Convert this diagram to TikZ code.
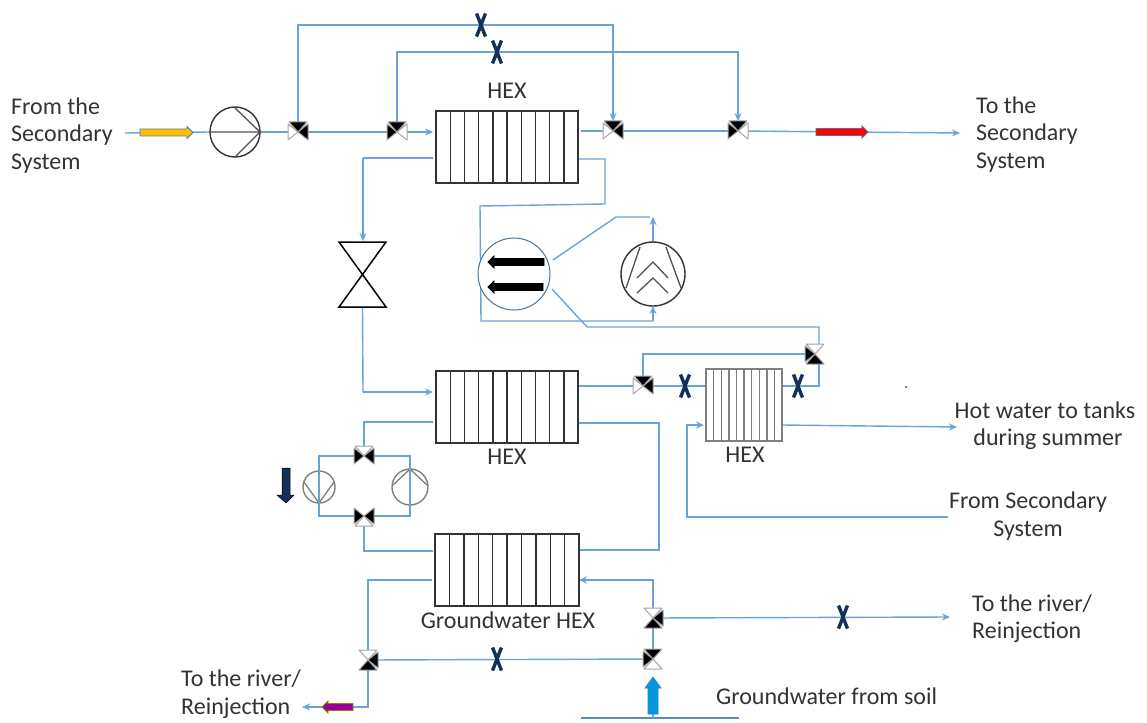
\documentclass[tikz,border=0pt]{standalone}
\usepackage{fontspec}
\setmainfont{Carlito}
\usetikzlibrary{arrows.meta,calc}
\pgfdeclarelayer{bg}
\pgfsetlayers{bg,main}
\definecolor{pipeblue}{HTML}{6AA3D8}
\definecolor{navyx}{HTML}{12305A}
\definecolor{inkgray}{HTML}{333333}
\tikzset{
  x=1pt,y=-1pt,
  pipe/.style={draw=pipeblue,line width=1.4pt},
  flow/.style={pipe,-{Stealth[length=8pt,width=7pt]}},
  box/.style={draw=inkgray,line width=1.4pt,fill=white,inner sep=0pt,outer sep=0pt},
  port/.style={inner sep=0pt,outer sep=0pt,minimum size=20pt},
  label/.style={text=inkgray,font=\fontsize{24}{26}\selectfont,inner sep=0pt},
  left label/.style={label,anchor=west},
  symbol/.style={draw=inkgray!85,line width=1.3pt},
  valve arm/.style={draw=gray!70,line width=1pt,line join=round},
  xmark/.style={draw=navyx,line width=3.4pt},
}
% heat exchanger: name, x, y, width, height, line colour (ten cells)
\newcommand{\hexunit}[6]{%
  \node[box,draw=#6,minimum width=#4pt,minimum height=#5pt,anchor=north west] (#1) at (#2,#3) {};
  \foreach \k in {1,...,9}
    \draw[draw=#6,line width=1.4pt] ({#2+\k*#4/10},#3) -- ({#2+\k*#4/10},{#3+#5});
}
% valve with the horizontal arms and one arm above
\newcommand{\threeh}[6]{%
  \node[port] (#1) at (#2,#3) {};
  \begin{scope}[shift={(#2,#3)}]
    \filldraw[valve arm,fill=#4] (0,0) -- (-10,-8) -- (-10,8) -- cycle;
    \filldraw[valve arm,fill=#5] (0,0) -- (10,-8) -- (10,8) -- cycle;
    \filldraw[valve arm,fill=#6] (0,0) -- (-9,-10) -- (9,-10) -- cycle;
  \end{scope}
}
% valve with the horizontal arms and one arm below
\newcommand{\threehb}[6]{%
  \node[port] (#1) at (#2,#3) {};
  \begin{scope}[shift={(#2,#3)}]
    \filldraw[valve arm,fill=#4] (0,0) -- (-10,-8) -- (-10,8) -- cycle;
    \filldraw[valve arm,fill=#5] (0,0) -- (10,-8) -- (10,8) -- cycle;
    \filldraw[valve arm,fill=#6] (0,0) -- (-9,10) -- (9,10) -- cycle;
  \end{scope}
}
% vertical valve: top, bottom and one side arm (side = -1 left, 1 right)
\newcommand{\threev}[6]{%
  \node[port] (#1) at (#2,#3) {};
  \begin{scope}[shift={(#2,#3)}]
    \filldraw[valve arm,fill=#4] (0,0) -- (-9,-10) -- (9,-10) -- cycle;
    \filldraw[valve arm,fill=#5] (0,0) -- (-9,10) -- (9,10) -- cycle;
    \filldraw[valve arm,fill=black] (0,0) -- ({#6*10},-8) -- ({#6*10},8) -- cycle;
  \end{scope}
}
% balancing mark
\newcommand{\xvalve}[3]{%
  \node[port,minimum size=10pt] (#1) at (#2,#3) {};
  \begin{scope}[shift={(#2,#3)}]
    \draw[xmark] (-4.5,-11.5) .. controls (-1,-3) and (1,3) .. (4.5,11.5);
    \draw[xmark] (4.5,-11.5) .. controls (1,-3) and (-1,3) .. (-4.5,11.5);
  \end{scope}
}
% block arrow: x from, x to, y, half body, fill, edge
\newcommand{\blockarrow}[6]{%
  \filldraw[fill=#5,draw=#6,line width=.9pt,line join=miter]
    (#1,{#3-#4}) -- ({#2-6*(#2-#1)/abs(#2-#1)},{#3-#4}) -- ({#2-6*(#2-#1)/abs(#2-#1)},{#3-#4-2.5})
    -- (#2,#3) -- ({#2-6*(#2-#1)/abs(#2-#1)},{#3+#4+2.5}) -- ({#2-6*(#2-#1)/abs(#2-#1)},{#3+#4}) -- (#1,{#3+#4}) -- cycle;
}
\begin{document}
\begin{tikzpicture}
\useasboundingbox (0,0) rectangle (1147,722);

% ---------- heat exchangers
\hexunit{hexa}{436}{111}{142}{72}{inkgray}
\hexunit{hexb}{436}{371}{142}{72}{inkgray}
\hexunit{hexc}{435}{534}{144}{72}{inkgray}
\hexunit{hexd}{706}{369}{76}{72}{gray}

% ---------- machines
\node[box,circle,minimum size=50pt] (pumpa) at (235,132) {};
\draw[symbol] (pumpa.west) -- (pumpa.east) (235,108) -- (pumpa.east) -- (235,157);
\node[box,circle,draw=gray,fill=none,minimum size=32pt] (pumpb) at (319,487) {};
\draw[symbol,draw=gray] (304,482) -- (319,503) -- (334,482);
\node[box,circle,draw=gray,fill=none,minimum size=36pt] (pumpc) at (410,487) {};
\draw[symbol,draw=gray] (393,485) -- (410,469) -- (427,485);
\node[box,circle,minimum size=64pt] (comp) at (653,274) {};
\draw[symbol] (640,247) -- (626,288) (666,247) -- (681,288)
  (637,278) -- (653,262) -- (668,278) (637,293) -- (653,278) -- (668,293);
\node[circle,draw=pipeblue!70!black,line width=1pt,fill=white,minimum width=72pt,inner sep=0pt] (cond) at (514,274) {};
\blockarrow{544}{488}{262}{3.5}{black}{black}
\blockarrow{543}{488}{287}{3.5}{black}{black}
% expansion valve
\node[port,minimum width=47pt,minimum height=65pt] (exv) at (362.5,274.5) {};
\draw[line width=1.5pt,draw=black,line join=miter] (exv.north west) -- (exv.north east) -- (exv.south west) -- (exv.south east) -- cycle;

% ---------- valves
\threeh{va}{298}{132}{white}{black}{black}
\threeh{vb}{397}{132}{black}{white}{black}
\threeh{vc}{613}{131}{white}{black}{black}
\threeh{vd}{738}{131}{black}{white}{black}
\threeh{ve}{643}{386}{white}{black}{black}
\threev{vf}{815}{354}{white}{black}{-1}
\threeh{vg}{364}{456}{black}{black}{white}
\threehb{vh}{364}{516}{black}{black}{white}
\threev{vi}{653}{618}{white}{black}{1}
\threev{vj}{653}{659}{black}{white}{-1}
\threev{vk}{368}{660}{white}{black}{1}

% ---------- balancing marks
\xvalve{xa}{481}{25}
\xvalve{xb}{497}{52}
\xvalve{xc}{685}{386}
\xvalve{xd}{798}{386}
\xvalve{xe}{497}{659}
\xvalve{xf}{843}{617}

% ---------- free ends and corners
\coordinate (inA) at (125,133);
\coordinate (outA) at (960,133);
\coordinate (hotout) at (957,427);
\coordinate (secin) at (948,517);
\coordinate (riverA) at (950,617);
\coordinate (riverB) at (302,707);
\coordinate (soil) at (653,718);
\coordinate (cw) at (553,260);
\coordinate (ctop) at (616,217);
\coordinate (cs) at (552,289);
\coordinate (cbot) at (587,327);

\begin{pgfonlayer}{bg}
  \fill[white] (0,0) rectangle (1147,722);
  \draw[pipe] (inA) -- (pumpa.west);
  \draw[pipe] (pumpa.east) -- (va.center) -- (vb.center);
  \draw[flow,shorten >=3pt] (vb.center) -- (vb.center -| hexa.west);
  \draw[pipe] ($(hexa.east |- vc)+(3,0)$) -- (vc.center) -- (vd.center);
  \draw[flow] (vd.center) -- (outA);
  \draw[pipe] (va.north) |- (xa.center);
  \draw[flow] (xa.center) -| (vc.center |- 0,121);
  \draw[pipe] (vb.north) |- (xb.center);
  \draw[flow] (xb.center) -| (vd.center |- 0,121);
  \draw[pipe] ($(hexa.west |- 0,158)+(-3,0)$) -- (363,158);
  \draw[flow] (363,158) -- (363,241);
  \draw[pipe] (exv.south) -- (363,392);
  \draw[flow,shorten >=3pt] (363,392) -- (hexb.west |- 0,392);
  % condenser / refrigerant loop
  \draw[pipe] (hexa.east |- 0,159) -- (605,159) -- (605,204) -- (480,206) -- (481,321) -- (653,321);
  \draw[flow] (653,321) -- (comp.south);
  \draw[flow] (comp.north) -- (653,217);
  \draw[pipe] (cw) -- (ctop) -- (650,217);
  \draw[pipe] (cs) -- (cbot) -- (819,327) -- (819,344);
  \draw[pipe] (hexb.east |- ve) -- (ve.center) -- (xc.center) -- (hexd.west |- xc);
  \draw[pipe] (ve.center) |- (vf.center);
  \draw[pipe] (hexd.east |- xd) -- (819,386) -- (819,360);
  \draw[flow] (hexd.east |- 0,425) -- (hotout);
  \draw[flow,shorten >=2pt] (secin) -- (687,517) -- (687,425) -- (hexd.west |- 0,425);
  \draw[pipe] ($(hexb.west |- 0,422)+(-3,0)$) -| (vg.north);
  \draw[pipe] (vh.south) |- ($(hexc.west |- 0,551)+(-2,0)$);
  \draw[pipe] (hexb.east |- 0,423) -- (659,423) -- (659,550) -- (hexc.east |- 0,550);
  \draw[flow] (vi.north) |- (hexc.east |- 0,580);
  \draw[pipe] ($(hexc.west |- 0,580)+(-3,0)$) -| (vk.north);
  \draw[pipe] (vi.south) -- (vj.north);
  \draw[flow] (vi.center) -- (riverA);
  \draw[pipe] (vj.center) -- (vk.center);
  \draw[pipe] (vk.south) |- (353,707);
  \draw[flow] (353,707) -- (riverB);
\end{pgfonlayer}
% pump loop, over the pumps
\draw[pipe] (354,456) -| (pumpb.center) |- (354,516);
\draw[pipe] (374,456) -| (pumpc.center) |- (374,516);

% ---------- soil line and coloured block arrows
\draw[pipe,draw=pipeblue!85!black,line width=2pt] (581,718) -- (739,718);
\draw[pipe] (soil) -- (653,712);
\filldraw[fill=cyan!80!blue,draw=cyan!70!blue,line width=.6pt] (648,714) -- (648,688) -- (645,688) -- (653,677) -- (661,688) -- (658,688) -- (658,714) -- cycle;
\blockarrow{140}{193}{132.5}{3.5}{orange!50!yellow}{pipeblue!80!black}
\blockarrow{816}{868}{132}{3.5}{red}{navyx!70}
\blockarrow{353}{322}{707}{3.5}{violet!80!magenta}{olive}
\filldraw[fill=navyx,draw=black,line width=.5pt] (282,468) -- (290,468) -- (290,495) -- (294,495) -- (286,503) -- (277,495) -- (282,495) -- cycle;
\fill[inkgray] (906,387) circle (1pt);

% ---------- texts
\node[left label] (t1) at (11,106) {From the};
\node[left label] (t2) at (11,135) {Secondary};
\node[left label] (t3) at (11,164) {System};
\node[left label] (t4) at (976,105) {To the};
\node[left label] (t5) at (976,134) {Secondary};
\node[left label] (t6) at (976,163) {System};
\node[label] (t7) at (507,91) {HEX};
\node[label] (t8) at (507,457) {HEX};
\node[label] (t9) at (745,455) {HEX};
\node[label] (t10) at (1045,410) {Hot water to tanks};
\node[label] (t11) at (1048,439) {during summer};
\node[label] (t12) at (1028,502) {From Secondary};
\node[label] (t13) at (1028,531) {System};
\node[label] (t14) at (508,620) {Groundwater HEX};
\node[left label] (t15) at (972,604) {To the river/};
\node[left label] (t16) at (972,632) {Reinjection};
\node[left label] (t17) at (181,679) {To the river/};
\node[left label] (t18) at (181,708) {Reinjection};
\node[left label] (t19) at (716,696) {Groundwater from soil};
\end{tikzpicture}
\end{document}
